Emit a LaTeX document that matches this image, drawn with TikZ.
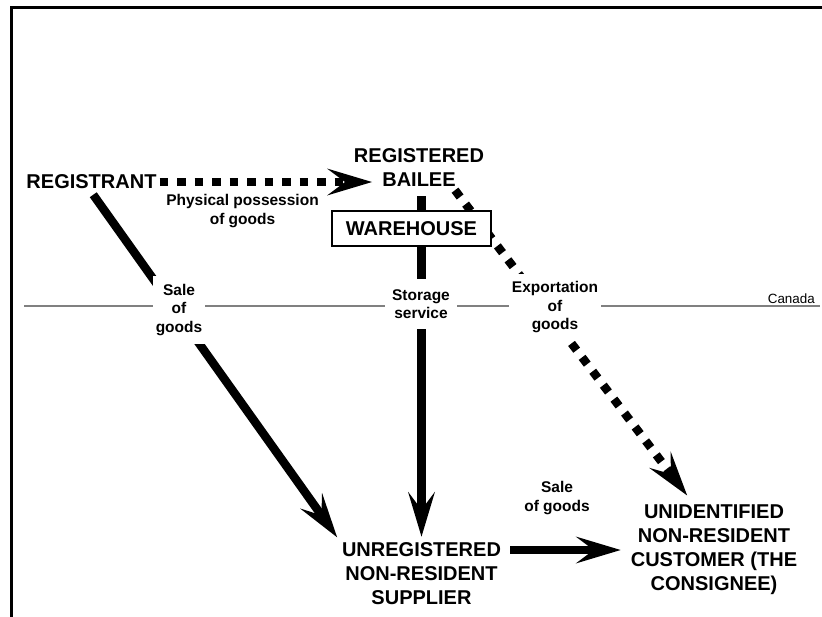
\documentclass[tikz,border=0pt]{standalone}
\usepackage{fontspec}
\setmainfont{Liberation Sans}
\usetikzlibrary{arrows.meta, positioning}

\begin{document}
\begin{tikzpicture}[x=1pt, y=-1pt,
  party/.style={align=center, inner sep=3pt, font=\fontsize{20}{24}\selectfont\bfseries},
  note/.style={align=center, inner sep=3pt, font=\fontsize{15.5}{18.5}\selectfont\bfseries},
  lbl/.style={note, fill=white, inner xsep=3pt, inner ysep=8pt},
  flow/.style={line width=8.5pt, -{Stealth[length=45pt, width=27pt, inset=18pt, line width=0pt]}},
  dotflow/.style={flow, line width=8.5pt, dash pattern=on 8.5pt off 9pt}]
\useasboundingbox (0,0) rectangle (822,616);
\draw[line width=3pt] (11,900) -- (11,7) -- (900,7);

\node[party] (registrant) at (91.5,182) {REGISTRANT};
\node[party] (bailee) at (419,168) {REGISTERED\\BAILEE};
\node[party] (supplier) at (421.5,574) {UNREGISTERED\\NON-RESIDENT\\SUPPLIER};
\node[party] (customer) at (714,550) {UNIDENTIFIED\\NON-RESIDENT\\CUSTOMER (THE\\CONSIGNEE)};

% Canada border
\coordinate (cw) at (24,306);
\coordinate (ce) at (820,306);
\draw[gray, line width=1.5pt] (cw) -- (ce);
\node[font=\fontsize{13.4}{16}\selectfont, anchor=base east, inner sep=0pt] (canada) at (815,303) {Canada};

% flows
\coordinate (possend) at (372,182);
\draw[dotflow] (registrant.east) -- (possend);
\draw[flow, shorten <=3pt, shorten >=3pt] (registrant.south) -- (supplier.north west);
\draw[flow, shorten <=6pt, shorten >=3pt] (bailee.south -| supplier.north) -- (supplier.north);
\draw[dotflow, shorten >=8pt] ([xshift=36pt]bailee.south) -- ([xshift=-22pt]customer.north);
\draw[flow, shorten <=6pt, shorten >=7pt] (supplier.east |- customer.west) -- (customer.west);

% boxes and labels on top
\node[party, draw, line width=2pt, fill=white, minimum width=159pt, minimum height=35pt, inner sep=0pt, below=20pt of bailee, xshift=-7.5pt] (warehouse) {WAREHOUSE};
\node[lbl] (salelbl) at (179,310) {Sale\\of\\goods};
\node[lbl, inner xsep=7.5pt, inner ysep=10pt] (storlbl) at (421,304) {Storage\\service};
\node[lbl] (expolbl) at (555,307.5) {Exportation\\of\\goods};
\node[note] (posslbl) at (242.5,211) {Physical possession\\of goods};
\node[note] (salenote) at (557,498) {Sale\\of goods};
\end{tikzpicture}
\end{document}
